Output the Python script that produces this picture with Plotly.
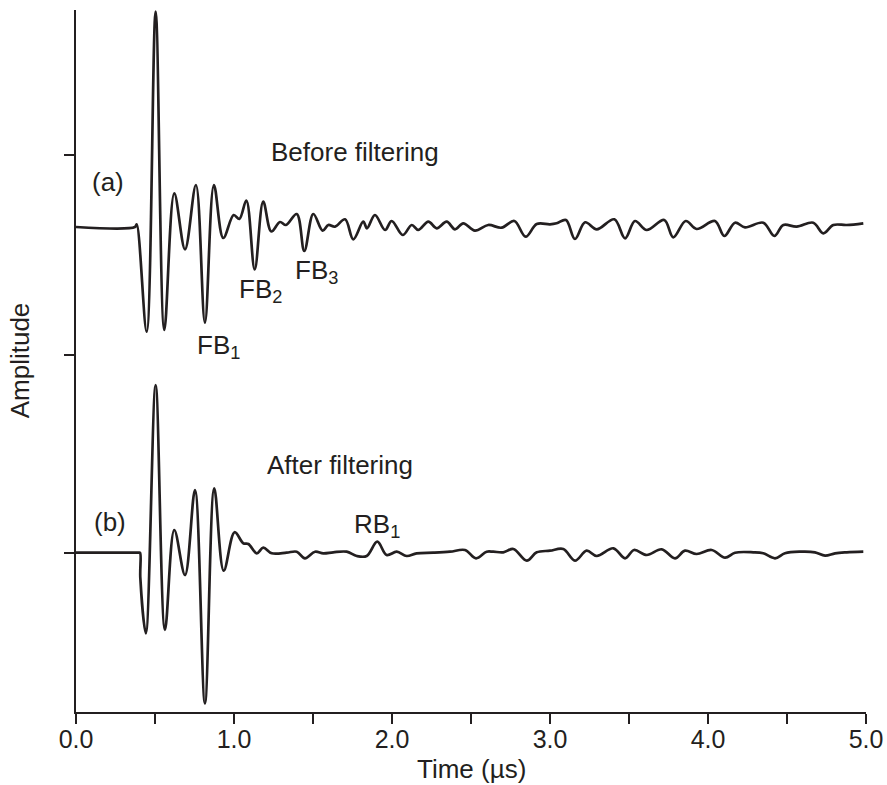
import plotly.graph_objects as go

# trace (a): before filtering, time in us, amplitude relative to its baseline
time_a = [0.0, 0.373, 0.384, 0.447, 0.504, 0.559, 0.622, 0.690, 0.759, 0.816,
          0.873, 0.932, 0.998, 1.034, 1.078, 1.131, 1.185, 1.236, 1.291, 1.329,
          1.397, 1.445, 1.502, 1.561, 1.597, 1.639, 1.703, 1.755, 1.818, 1.842,
          1.892, 1.956, 1.998, 2.068, 2.125, 2.166, 2.230, 2.283, 2.346, 2.399,
          2.451, 2.525, 2.609, 2.694, 2.774, 2.846, 2.916, 3.000, 3.042, 3.101,
          3.158, 3.222, 3.296, 3.407, 3.475, 3.538, 3.612, 3.723, 3.780, 3.859,
          3.928, 4.044, 4.103, 4.171, 4.234, 4.350, 4.420, 4.477, 4.561, 4.666,
          4.730, 4.793, 4.878, 4.983]
amp_a = [0.0, 0.0, 0.027, -1.047, 2.153, -1.03, 0.337, -0.223, 0.42, -0.957,
         0.42, -0.11, 0.12, 0.08, 0.265, -0.425, 0.255, -0.045, 0.05, 0.02,
         0.13, -0.24, 0.13, -0.037, 0.02, 0.003, 0.077, -0.123, 0.053, -0.013,
         0.12, -0.03, 0.06, -0.08, 0.02, -0.03, 0.053, -0.013, 0.053, -0.023,
         0.037, -0.037, 0.02, -0.007, 0.06, -0.097, 0.03, 0.027, 0.037, 0.07,
         -0.12, 0.047, -0.023, 0.077, -0.113, 0.06, -0.03, 0.07, -0.103, 0.06,
         -0.02, 0.06, -0.09, 0.043, -0.003, 0.043, -0.09, 0.02, 0.003, 0.043,
         -0.063, 0.02, 0.02, 0.037]
offset_a = 3.257

# trace (b): after filtering
time_b = [0.0, 0.300, 0.395, 0.405, 0.407, 0.442, 0.504, 0.563, 0.622, 0.690,
          0.753, 0.816, 0.875, 0.935, 1.004, 1.059, 1.091, 1.144, 1.185, 1.239,
          1.333, 1.397, 1.449, 1.513, 1.565, 1.628, 1.713, 1.777, 1.840, 1.907,
          1.966, 2.030, 2.093, 2.156, 2.261, 2.367, 2.462, 2.532, 2.599, 2.641,
          2.704, 2.768, 2.853, 2.916, 3.000, 3.084, 3.158, 3.232, 3.296, 3.401,
          3.475, 3.532, 3.612, 3.707, 3.791, 3.854, 3.928, 4.023, 4.108, 4.171,
          4.287, 4.350, 4.424, 4.487, 4.582, 4.677, 4.741, 4.804, 4.878, 4.983]
amp_b = [0.0, 0.0, 0.0, 0.0, -0.25, -0.806, 1.677, -0.773, 0.227, -0.223,
         0.627, -1.506, 0.644, -0.18, 0.205, 0.094, 0.087, -0.006, 0.05, -0.006,
         0.0, 0.01, -0.056, 0.01, -0.006, 0.004, 0.01, -0.033, -0.033, 0.11,
         -0.023, 0.01, -0.033, -0.006, 0.0, 0.01, 0.027, -0.056, 0.01, 0.01,
         0.004, 0.037, -0.08, 0.004, 0.02, 0.037, -0.08, 0.02, -0.033, 0.044,
         -0.056, 0.027, -0.023, 0.034, -0.056, 0.02, -0.013, 0.027, -0.05, 0.0,
         0.004, -0.006, -0.056, -0.006, 0.01, 0.004, -0.03, -0.006, 0.004, 0.01]
offset_b = 0.0

x_tickvals = [0.0, 0.5, 1.0, 1.5, 2.0, 2.5, 3.0, 3.5, 4.0, 4.5, 5.0]
x_ticktext = ["0.0", "", "1.0", "", "2.0", "", "3.0", "", "4.0", "", "5.0"]
y_tickvals = [0.0, 1.98, 3.98]

# labels: (text, x, y)
labels = [
    ("Before filtering", 1.766, 4.007),
    ("(a)", 0.203, 3.707),
    ("FB<sub>1</sub>", 0.905, 2.06),
    ("FB<sub>2</sub>", 1.165, 2.62),
    ("FB<sub>3</sub>", 1.519, 2.81),
    ("After filtering", 1.671, 0.877),
    ("(b)", 0.215, 0.307),
    ("RB<sub>1</sub>", 1.905, 0.27),
]

line_col = "#231f20"
font = dict(family="Liberation Sans, Arial", size=26, color=line_col)
tick_font = dict(family="Liberation Sans, Arial", size=25, color=line_col)

fig = go.Figure()
fig.add_trace(go.Scatter(
    x=time_a, y=[v + offset_a for v in amp_a], mode="lines",
    line=dict(color=line_col, width=2.7, shape="spline", smoothing=1.0),
    showlegend=False))
fig.add_trace(go.Scatter(
    x=time_b, y=[v + offset_b for v in amp_b], mode="lines",
    line=dict(color=line_col, width=2.7, shape="spline", smoothing=1.0),
    showlegend=False))

for text, x, y in labels:
    fig.add_annotation(x=x, y=y, text=text, showarrow=False, font=font)

# axis titles as annotations so they can be placed exactly
fig.add_annotation(text="Time (µs)", xref="paper", yref="paper", x=0.501, y=0,
                   yanchor="middle", yshift=-57, showarrow=False, font=font)
fig.add_annotation(text="Amplitude", xref="paper", yref="paper", x=0, y=0.501,
                   xanchor="center", xshift=-56, textangle=-90,
                   showarrow=False, font=font)

fig.update_layout(
    width=887, height=785,
    margin=dict(l=76, r=21, t=10, b=73),
    plot_bgcolor="white", paper_bgcolor="white",
    font=font,
)
fig.update_xaxes(
    range=[0, 5], tickvals=x_tickvals, ticktext=x_ticktext,
    showline=True, linecolor=line_col, linewidth=2,
    ticks="outside", ticklen=10, tickwidth=2, tickcolor=line_col,
    tickfont=tick_font, ticklabelstandoff=-6,
    showgrid=False, zeroline=False, automargin=False,
)
fig.update_yaxes(
    range=[-1.593, 5.427], tickvals=y_tickvals, showticklabels=False,
    showline=True, linecolor=line_col, linewidth=2,
    ticks="outside", ticklen=10, tickwidth=2, tickcolor=line_col,
    showgrid=False, zeroline=False, automargin=False,
)

# drop the default body margin so the figure sits at the page origin
fig.write_html("out.html", config={"displayModeBar": False},
               post_script="document.body.style.margin='0';"
                           "document.body.style.overflow='hidden';")
